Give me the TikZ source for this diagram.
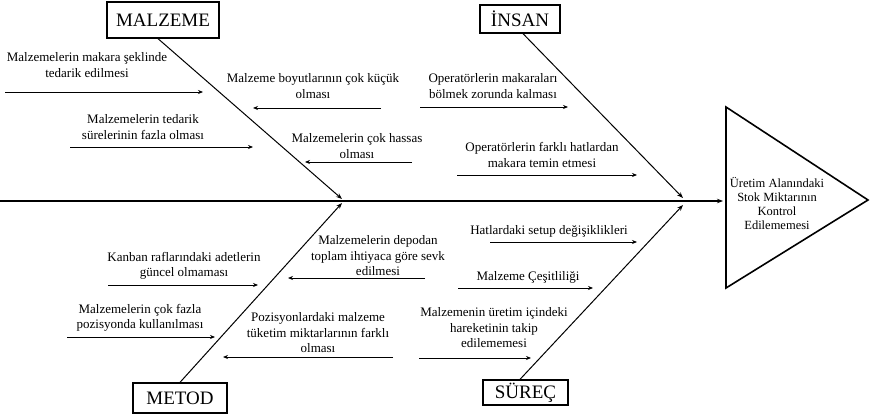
\documentclass[tikz,border=0pt]{standalone}
\usepackage{fontspec}
\setmainfont{Liberation Serif}
\usetikzlibrary{arrows.meta,positioning}

\begin{document}
\begin{tikzpicture}[x=1pt,y=-1pt]
\tikzset{kategori/.style ={draw,line width=1.3pt,inner sep=0pt,font=\fontsize{19}{22}\selectfont},
  neden/.style ={align=center,inner sep=0pt,font=\fontsize{13}{15.5}\selectfont},
  kilcik/.style ={line width=1pt,-{Stealth[length=6pt,width=4.5pt]}},
  okcuk/.style ={line width=0.8pt,-{Stealth[length=5pt,width=4pt]}}}
\useasboundingbox (0,0) rectangle (870,417);
% ana kategoriler
    \node[kategori,minimum width=112pt,minimum height=36pt] (malzeme) at (163,20) {MALZEME};
    \node[kategori,minimum width=80pt,minimum height=28pt] (insan) at (520,19) {İNSAN};
    \node[kategori,minimum width=94pt,minimum height=30pt] (metod) at (180,398) {METOD};
    \node[kategori,minimum width=85pt,minimum height=25pt] (surec) at (525.5,392.5) {SÜREÇ};
% sonuc ucgeni
    \coordinate (ust) at (726,107);
    \coordinate (alt) at (726,288);
    \coordinate (uc) at (868,200);
    \draw[line width=1.6pt,line join=miter] (ust) -- (alt) -- (uc) -- cycle;
    \node[align=center,inner sep=0pt,font=\fontsize{12.5}{14}\selectfont] (etki) at (777,203)
      {Üretim Alanındaki\\Stok Miktarının\\Kontrol\\Edilememesi};
% omurga ve kilciklar
    \coordinate (bas) at (0,201);
    \coordinate (son) at (723,201);
    \draw[line width=1.2pt,-{Stealth[length=6pt,width=4.5pt]}] (bas) -- (son);
    \coordinate (km) at (342,199);
    \coordinate (ki) at (683,198);
    \coordinate (kme) at (342,203);
    \coordinate (ks) at (683,205);
    \draw[kilcik] ([xshift=-5pt]malzeme.south) -- (km);
    \draw[kilcik] ([xshift=3pt]insan.south) -- (ki);
    \draw[kilcik] (metod.north) -- (kme);
    \draw[kilcik] ([xshift=-5.5pt]surec.north) -- (ks);
% nedenler
    \node[neden] (n1) at (87,65) {Malzemelerin makara şeklinde\\tedarik edilmesi};
    \node[neden] (n2) at (313,86) {Malzeme boyutlarının çok küçük\\olması};
    \node[neden] (n3) at (143,127) {Malzemelerin tedarik\\sürelerinin fazla olması};
    \node[neden] (n4) at (357,146) {Malzemelerin çok hassas\\olması};
    \node[neden] (n5) at (493,86) {Operatörlerin makaraları\\bölmek zorunda kalması};
    \node[neden] (n6) at (542,155) {Operatörlerin farklı hatlardan\\makara temin etmesi};
    \node[neden] (n7) at (184,266) {Kanban raflarındaki adetlerin\\güncel olmaması};
    \node[neden] (n8) at (140,318) {Malzemelerin çok fazla\\pozisyonda kullanılması};
    \node[neden] (n9) at (378,256) {Malzemelerin depodan\\toplam ihtiyaca göre sevk\\edilmesi};
    \node[neden] (n10) at (318,333) {Pozisyonlardaki malzeme\\tüketim miktarlarının farklı\\olması};
    \node[neden] (n11) at (549,231) {Hatlardaki setup değişiklikleri};
    \node[neden] (n12) at (528,277) {Malzeme Çeşitliliği};
    \node[neden] (n13) at (494,328) {Malzemenin üretim içindeki\\hareketinin takip\\edilememesi};
% neden oklari
    \foreach \i/\xa/\xb/\y in {1/5/203/92, 2/381/253/108, 3/70/253/147, 4/412/305/162,
        5/420/568/107, 6/457/637/175, 7/108/258/285, 8/67/215/337, 9/425/288/278,
        10/393/223/357, 11/490/637/242, 12/458/593/288, 13/419/531/358}
    {
      \coordinate (a\i) at (\xa,\y);
      \coordinate (b\i) at (\xb,\y);
      \draw[okcuk] (a\i) -- (b\i);
    }
\end{tikzpicture}
\end{document}
